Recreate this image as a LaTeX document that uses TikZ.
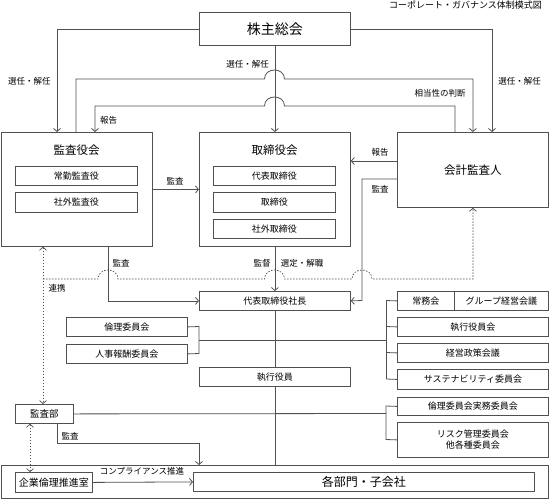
\documentclass[tikz,border=0pt]{standalone}
\usepackage{fontspec}
\setmainfont{Noto Sans CJK JP}
\usetikzlibrary{arrows.meta}
\definecolor{lc}{HTML}{505050}
\begin{document}
\begin{tikzpicture}[x=1pt,y=-1pt,
  line/.style={draw=lc, line width=0.8pt},
  arr/.style={line, -{Straight Barb[length=3pt,width=7pt]}},
  darr/.style={draw=lc, line width=0.7pt, dash pattern=on 1.5pt off 1.5pt, -{Straight Barb[length=3pt,width=7pt]}},
  darrb/.style={draw=lc, line width=0.7pt, dash pattern=on 1.5pt off 1.5pt, {Straight Barb[length=3pt,width=7pt]}-{Straight Barb[length=3pt,width=7pt]}},
  box/.style={draw=lc, line width=0.8pt, anchor=north west, inner sep=0pt, font=\fontsize{9}{10}\selectfont, align=center},
  ttl/.style={inner sep=0pt, font=\fontsize{11.5}{12}\selectfont},
  lbl/.style={inner sep=0pt, font=\fontsize{8.5}{9}\selectfont}]
\useasboundingbox (0,0) rectangle (549,499);
\fill[white] (0,0) rectangle (549,499);

\node[lbl, font=\fontsize{9}{10}\selectfont] (title) at (465.5,5) {コーポレート・ガバナンス体制模式図};

% boxes
\node[box, minimum width=151pt, minimum height=33pt, font=\fontsize{14}{15}\selectfont] (ab) at (199,12) {株主総会};
\node[box, minimum width=151pt, minimum height=114pt] (kyk) at (1,132) {};
\node[ttl] (kykt) at (76.5,150) {監査役会};
\node[box, minimum width=122pt, minimum height=19pt] (joukin) at (15,166) {常勤監査役};
\node[box, minimum width=122pt, minimum height=20pt] (shagaik) at (15,192) {社外監査役};
\node[box, minimum width=151pt, minimum height=114pt] (tb) at (199,132) {};
\node[ttl] (tbt) at (274.5,150) {取締役会};
\node[box, minimum width=122pt, minimum height=19pt] (dh) at (213,166) {代表取締役};
\node[box, minimum width=122pt, minimum height=20pt] (tr) at (213,192) {取締役};
\node[box, minimum width=122pt, minimum height=19pt] (sg) at (213,219) {社外取締役};
\node[box, minimum width=151pt, minimum height=75pt, font=\fontsize{11.5}{12}\selectfont] (ka) at (397,132) {会計監査人};
\node[box, minimum width=151pt, minimum height=19pt] (pres) at (199,291) {代表取締役社長};
\node[box, minimum width=151pt, minimum height=19pt] (exe) at (199,367) {執行役員};
\node[box, minimum width=121pt, minimum height=19pt] (rinri) at (66,317) {倫理委員会};
\node[box, minimum width=121pt, minimum height=19pt] (jinji) at (66,344) {人事報酬委員会};
\node[box, minimum width=57pt, minimum height=19pt] (joumu) at (397,291) {常務会};
\node[box, minimum width=94pt, minimum height=19pt] (group) at (454,291) {グループ経営会議};
\node[box, minimum width=151pt, minimum height=19pt] (shikkou) at (397,317) {執行役員会};
\node[box, minimum width=151pt, minimum height=19pt] (keiei) at (397,343) {経営政策会議};
\node[box, minimum width=151pt, minimum height=20pt] (sust) at (397,369) {サステナビリティ委員会};
\node[box, minimum width=151pt, minimum height=18pt] (rinjitsu) at (397,397) {倫理委員会実務委員会};
\node[box, minimum width=151pt, minimum height=35pt, font=\fontsize{9}{11}\selectfont] (risk) at (397,422) {リスク管理委員会\\他各種委員会};
\node[box, minimum width=58pt, minimum height=19pt, font=\fontsize{9.5}{10}\selectfont] (kansabu) at (15,404) {監査部};
\node[box, minimum width=547pt, minimum height=33pt] (outer) at (1,465) {};
\node[box, minimum width=77pt, minimum height=20pt, font=\fontsize{10}{11}\selectfont] (kigyo) at (15,472) {企業倫理推進室};
\node[box, minimum width=341pt, minimum height=19pt, font=\fontsize{12}{13}\selectfont] (kakubu) at (193,472) {各部門・子会社};

% connectors from shareholders
\draw[arr] (ab.west) -| ([xshift=56pt]kyk.north west);
\draw[arr] (ab.east) -| ([xshift=95pt]ka.north west);
\draw[arr] (ab.south) -- (tb.north);
\node[lbl] (l1) at (29.5,81) {選任・解任};
\node[lbl] (l2) at (519.5,81) {選任・解任};
\node[lbl] (l3) at (247.5,64) {選任・解任};

% 相当性の判断
\draw[arr] ([xshift=75pt]kyk.north west) -- (76,79) -- (264.5,79)
  .. controls (264.5,67) and (284.5,67) .. (284.5,79) -- (ka.north |- 0,79) -- (ka.north);
\node[lbl] (l4) at (440,93) {相当性の判断};
% 報告 (to 監査役会)
\draw[arr] ([xshift=58pt]ka.north west) -- (455,106) -- (284.5,106)
  .. controls (284.5,94) and (264.5,94) .. (264.5,106) -- (95,106) -- ([xshift=94pt]kyk.north west);
\node[lbl] (l5) at (108.5,120) {報告};

% 監査 kyk -> tb
\draw[arr] (kyk.east) -- (tb.west);
\node[lbl] (l6) at (175,181) {監査};
% 報告 ka -> tb
\draw[arr] (ka.west |- 0,161) -- (tb.east |- 0,161);
\node[lbl] (l7) at (380,152) {報告};
% 監査 ka -> pres
\draw[arr] (ka.west |- 0,179) -- (362,179) -- (362,300.5) -- (pres.east);
\node[lbl] (l8) at (380,189) {監査};
% 監督 選定・解職
\draw[arr] (tb.south) -- (pres.north);
\node[lbl] (l9) at (262,263) {監督};
\node[lbl] (l10) at (302,263) {選定・解職};
% 監査 kyk -> pres
\draw[arr] (kyk.south -| 108,0) |- (pres.west);
\node[lbl] (l11) at (121,263) {監査};

% dashed liaison
\draw[darrb] (kyk.south -| 43,0) -- (kansabu.north -| 43,0);
\node[lbl] (l12) at (57,288) {連携};
\draw[darr] (43,279) -- (98,279) .. controls (98,267) and (118,267) .. (118,279)
  -- (264.5,279) .. controls (264.5,267) and (284.5,267) .. (284.5,279)
  -- (352,279) .. controls (352,267) and (372,267) .. (372,279)
  -- (ka.south |- 0,279) -- (ka.south);

% center spine
\draw[line] (pres.south) -- (exe.north);
\draw[line] (exe.south) -- (outer.north -| exe.south);
\draw[line] (199,340) -- (386,340);
\draw[line] (kansabu.east) -- (386,413.5);

% left bracket
\draw[line] (rinri.east) -- (199,326.5) -- (199,353.5) -- (jinji.east);
% right brackets
\draw[line] (386,300.5) -- (386,379);
\draw[line] (386,300.5) -- (joumu.west);
\draw[line] (386,326.5) -- (shikkou.west);
\draw[line] (386,352.5) -- (keiei.west);
\draw[line] (386,379) -- (sust.west);
\draw[line] (rinjitsu.west) -- (386,406) -- (386,439.5) -- (risk.west);

% 監査部 audits
\draw[arr] (kansabu.south -| 57,0) |- (199,443) -- (outer.north -| 199,0);
\node[lbl] (l13) at (70,436) {監査};
\draw[darrb] (kansabu.south -| 30,0) -- (kigyo.north -| 30,0);
% compliance
\draw[arr] (kigyo.east) -- (kakubu.west);
\node[lbl] (l14) at (142,471) {コンプライアンス推進};
\end{tikzpicture}
\end{document}
